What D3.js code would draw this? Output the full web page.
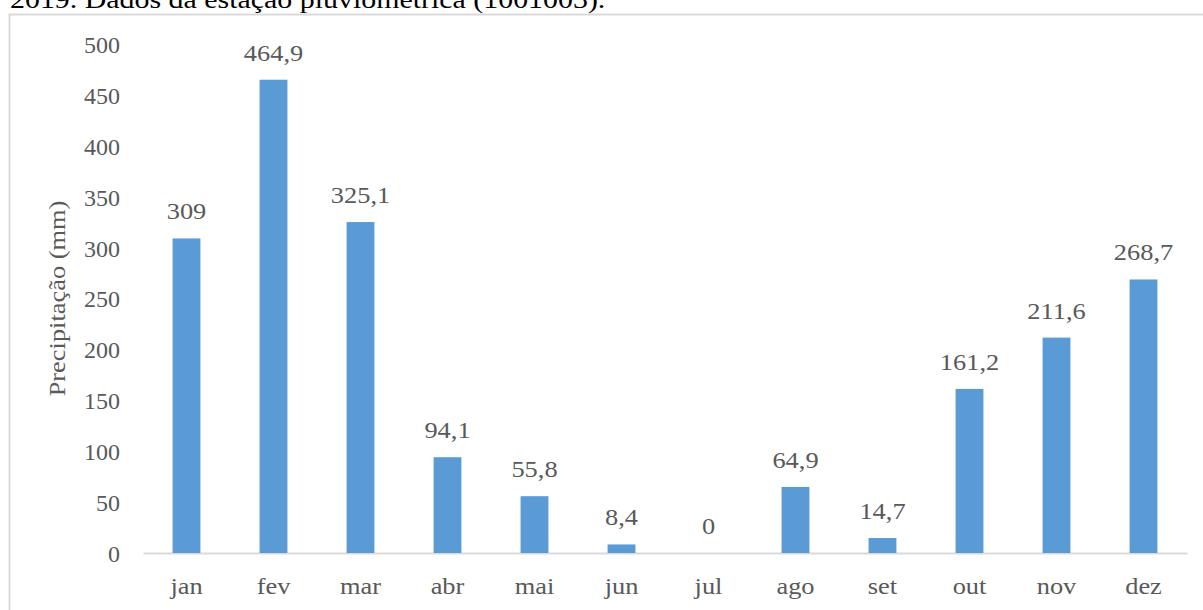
<!DOCTYPE html>
<html>
<head>
<meta charset="utf-8">
<script src="https://cdn.jsdelivr.net/npm/d3@7"></script>
<style>
  body { margin: 0; background: #fff; }
  svg { display: block; font-family: "Liberation Serif", "Times New Roman", serif; }
  .tick-label, .value-label, .axis-label { fill: #595959; }
</style>
</head>
<body>
<svg width="1203" height="610"></svg>
<script>
"use strict";

const caption = "2019. Dados da estação pluviométrica (1001003).";
const months = ["jan", "fev", "mar", "abr", "mai", "jun", "jul", "ago", "set", "out", "nov", "dez"];
const rainfall = [309, 464.9, 325.1, 94.1, 55.8, 8.4, 0, 64.9, 14.7, 161.2, 211.6, 268.7];
const yTicks = [0, 50, 100, 150, 200, 250, 300, 350, 400, 450, 500];
const yAxisLabel = "Precipitação (mm)";

const svg = d3.select("svg");
const width = +svg.attr("width");
const height = +svg.attr("height");

const margin = { top: 44, right: 16, bottom: 57, left: 143 };
const innerWidth = width - margin.left - margin.right;
const innerHeight = height - margin.top - margin.bottom;
const fontSize = 24;
const stretch = 1.1; // source text looks a bit wider than Liberation Serif

// widen a text a little without moving its anchor
const widen = (sel, k) => sel.each(function() {
  const len = this.getComputedTextLength();
  d3.select(this)
    .attr("textLength", len * k)
    .attr("lengthAdjust", "spacingAndGlyphs");
});

const data = months.map((m, i) => ({ month: m, value: rainfall[i] }));

// caption, clipped at the top like the source
svg.append("text")
  .attr("x", 10)
  .attr("y", 8)
  .attr("font-size", 26)
  .attr("fill", "#000")
  .text(caption)
  .call(widen, 1.15);

// chart frame (only top and left edges visible)
svg.append("path")
  .attr("d", `M9.5,${height}V14.5H${width}`)
  .attr("fill", "none")
  .attr("stroke", "#d9d9d9")
  .attr("stroke-width", 2);

const xScale = d3.scaleBand()
  .domain(months)
  .range([0, innerWidth])
  .paddingInner(0.68)
  .paddingOuter(0.34);

const yScale = d3.scaleLinear()
  .domain([0, 500])
  .range([innerHeight, 0]);

const g = svg.append("g")
  .attr("transform", `translate(${margin.left},${margin.top})`);

// y axis: labels only
const yAxis = d3.axisLeft(yScale)
  .tickValues(yTicks)
  .tickSize(0)
  .tickPadding(23);

const yAxisG = g.append("g").call(yAxis)
  .attr("font-family", null)
  .attr("font-size", null);
yAxisG.select(".domain").remove();
yAxisG.selectAll("text")
  .attr("class", "tick-label")
  .attr("font-size", fontSize)
  .attr("dy", "0.35em");

// x axis line + labels
const xAxis = d3.axisBottom(xScale).tickSize(0).tickPadding(24);
const xAxisG = g.append("g")
  .attr("transform", `translate(0,${innerHeight})`)
  .call(xAxis)
  .attr("font-family", null)
  .attr("font-size", null);
xAxisG.select(".domain")
  .attr("stroke", "#d9d9d9")
  .attr("stroke-width", 2);
xAxisG.selectAll("text")
  .attr("class", "tick-label")
  .attr("font-size", fontSize)
  .call(widen, stretch);

// bars
g.selectAll("rect.bar")
  .data(data)
  .enter()
  .append("rect")
  .attr("class", "bar")
  .attr("x", d => xScale(d.month))
  .attr("y", d => yScale(d.value))
  .attr("width", xScale.bandwidth())
  .attr("height", d => innerHeight - yScale(d.value))
  .attr("fill", "#5b9bd5");

// value labels
g.selectAll("text.value-label")
  .data(data)
  .enter()
  .append("text")
  .attr("class", "value-label")
  .attr("x", d => xScale(d.month) + xScale.bandwidth() / 2)
  .attr("y", d => yScale(d.value) - 19)
  .attr("text-anchor", "middle")
  .attr("font-size", fontSize)
  .text(d => d3.format(",")(d.value).replace(".", ","))
  .call(widen, stretch);

// y axis title
g.append("text")
  .attr("class", "axis-label")
  .attr("transform", "rotate(-90)")
  .attr("x", -innerHeight / 2)
  .attr("y", 58 - margin.left + 7)
  .attr("text-anchor", "middle")
  .attr("font-size", fontSize)
  .text(yAxisLabel)
  .call(widen, 1.1);
</script>
</body>
</html>
